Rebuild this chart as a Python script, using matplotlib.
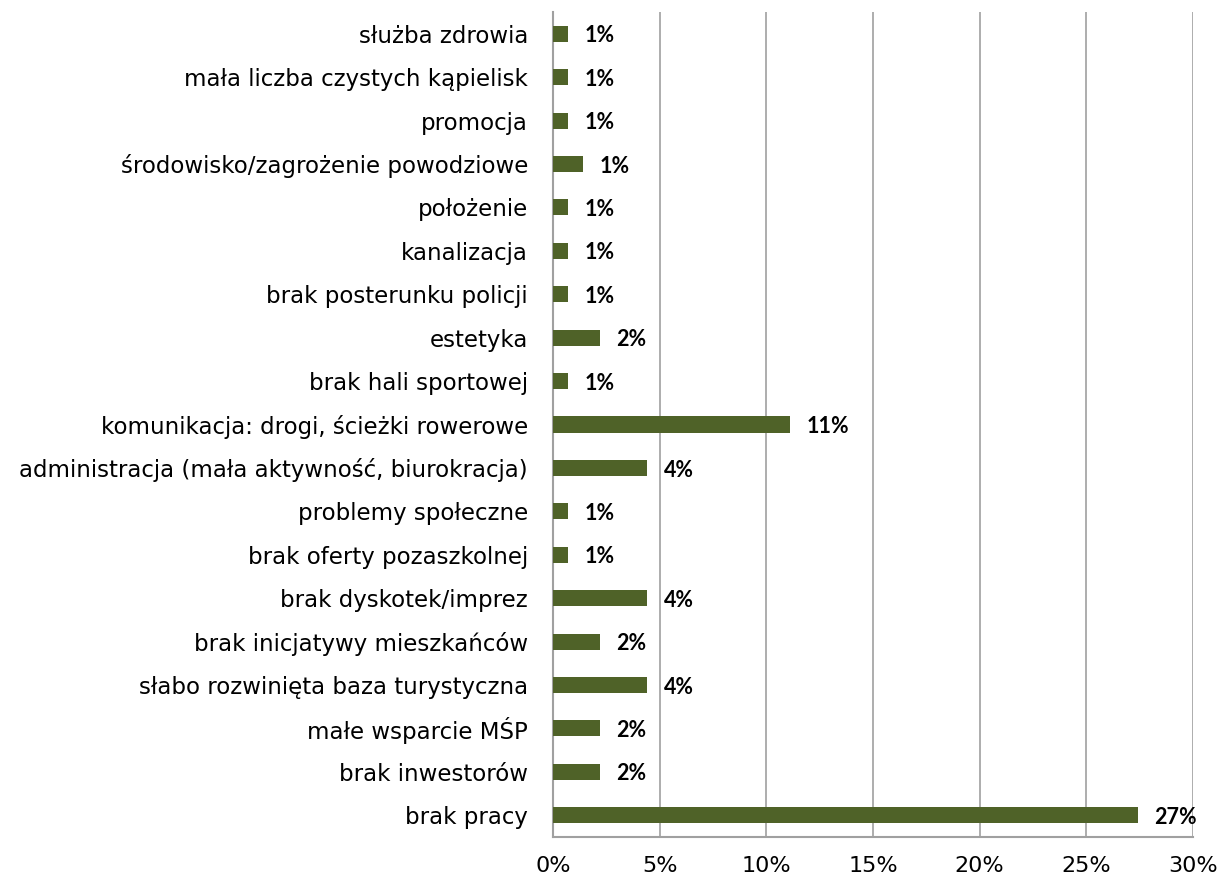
import matplotlib
matplotlib.use("Agg")
import matplotlib.pyplot as plt
from matplotlib.ticker import PercentFormatter

categories = [
    "służba zdrowia",
    "mała liczba czystych kąpielisk",
    "promocja",
    "środowisko/zagrożenie powodziowe",
    "położenie",
    "kanalizacja",
    "brak posterunku policji",
    "estetyka",
    "brak hali sportowej",
    "komunikacja: drogi, ścieżki rowerowe",
    "administracja (mała aktywność, biurokracja)",
    "problemy społeczne",
    "brak oferty pozaszkolnej",
    "brak dyskotek/imprez",
    "brak inicjatywy mieszkańców",
    "słabo rozwinięta baza turystyczna",
    "małe wsparcie MŚP",
    "brak inwestorów",
    "brak pracy",
]
values = [0.7, 0.7, 0.7, 1.4, 0.7, 0.7, 0.7, 2.2, 0.7, 11.1,
          4.4, 0.7, 0.7, 4.4, 2.2, 4.4, 2.2, 2.2, 27.4]
xticks = [0, 5, 10, 15, 20, 25, 30]

bar_color = "#4F6228"
grid_color = "#A0A0A0"

fig = plt.figure(figsize=(12.2, 8.83), dpi=100)
ax = fig.add_axes([553 / 1220, 1 - 837 / 883, 640 / 1220, 825 / 883])

n = len(categories)
ypos = list(range(n))[::-1]
ax.barh(ypos, values, height=0.37, color=bar_color, zorder=3)

for y, v in zip(ypos, values):
    ax.annotate(f"{round(v):d}%", xy=(v, y), xytext=(12, -1.5),
                textcoords="offset points", va="center", ha="left",
                fontsize=15.5, fontweight="bold", family="Lato",
                color="black")

ax.set_xlim(0, 30)
ax.set_ylim(-0.5, n - 0.5)
ax.set_xticks(xticks)
ax.xaxis.set_major_formatter(PercentFormatter(decimals=0))
ax.set_yticks(ypos)
ax.set_yticklabels(categories, fontsize=16.5, family="DejaVu Sans",
                   color="black")

ax.grid(axis="x", color=grid_color, linewidth=1.2, zorder=0)
for side in ["top", "right"]:
    ax.spines[side].set_visible(False)
for side in ["left", "bottom"]:
    ax.spines[side].set_color(grid_color)
    ax.spines[side].set_linewidth(1.5)

ax.tick_params(axis="y", length=0, pad=18)
ax.tick_params(axis="x", length=0, pad=14, labelsize=16, colors="black")
for lbl in ax.get_xticklabels():
    lbl.set_family("DejaVu Sans")

fig.savefig("out.png", dpi=100, facecolor="white")
